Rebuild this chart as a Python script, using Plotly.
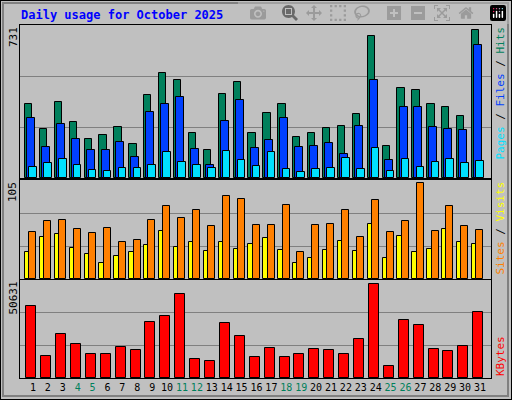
import plotly.graph_objects as go
from plotly.subplots import make_subplots

# --- data ---
days = list(range(1, 32))
weekend = [4, 5, 11, 12, 18, 19, 25, 26]
hits = [364, 240, 374, 275, 195, 210, 250, 170, 409, 518, 483, 220, 136, 414, 473, 220,
        319, 364, 205, 220, 245, 255, 314, 701, 160, 443, 433, 364, 349, 304, 731]
files = [294, 155, 265, 195, 136, 136, 180, 106, 324, 364, 399, 141, 66, 280, 384, 150,
         190, 294, 155, 160, 175, 121, 255, 483, 91, 349, 349, 250, 240, 235, 657]
pages = [56, 76, 96, 66, 41, 36, 51, 51, 66, 126, 81, 66, 51, 131, 91, 61,
         126, 46, 31, 46, 51, 101, 46, 150, 36, 96, 56, 81, 96, 76, 86]
visits = [51, 63, 65, 55, 50, 56, 41, 43, 65, 80, 67, 76, 58, 91, 88, 59,
          59, 81, 29, 59, 60, 75, 46, 86, 51, 63, 105, 52, 80, 58, 54]
sites = [29, 46, 49, 34, 27, 17, 25, 29, 37, 52, 35, 40, 31, 41, 33, 38,
         45, 32, 17, 23, 32, 42, 31, 60, 23, 47, 30, 33, 55, 40, 38]
kbytes = [38950, 11690, 23930, 18360, 12800, 12800, 16700, 15020, 30050, 33390, 45080,
          10020, 8900, 29500, 22820, 11130, 16140, 11130, 12800, 15580, 15020, 12800,
          21150, 50631, 6680, 31170, 28380, 15580, 14470, 17250, 35620]

W, H = 512, 400
BG = "#C0C0C0"
MONO = "DejaVu Sans Mono"
WEEKEND_C = "#00805C"

fig = make_subplots(rows=3, cols=1, shared_xaxes=True)

def bars(y, color, offset, width, row):
    fig.add_trace(go.Bar(x=days, y=y, offset=offset, width=width,
                         marker=dict(color=color, line=dict(color="black", width=1))),
                  row=row, col=1)

bars(hits, "#00805C", -0.54, 0.49, 1)
bars(files, "#0040FF", -0.40, 0.54, 1)
bars(pages, "#00E0FF", -0.25, 0.50, 1)
bars(sites, "#FFFF00", -0.54, 0.29, 2)
bars(visits, "#FF8000", -0.25, 0.47, 2)
bars(kbytes, "#FF0000", -0.45, 0.67, 3)

def dom(top, bot):
    return [1 - bot / H, 1 - top / H]

panels = [(1, 25, 178, 731 * 153 / 148), (2, 180, 279, 105 * 99 / 96), (3, 280, 378, 50631 * 98 / 94)]
for row, top, bot, rmax in panels:
    yname = "yaxis" if row == 1 else "yaxis%d" % row
    fig.layout[yname].update(domain=dom(top, bot), range=[0, rmax],
                             tickvals=[rmax / 3, 2 * rmax / 3], showticklabels=False,
                             ticks="", showgrid=True, gridcolor="#808080", gridwidth=1,
                             zeroline=False, showline=True, linecolor="black",
                             mirror=True, fixedrange=True)
    xname = "xaxis" if row == 1 else "xaxis%d" % row
    fig.layout[xname].update(domain=[20 / W, 491 / W], range=[0.128, 31.74],
                             showgrid=False, zeroline=False, showline=True,
                             linecolor="black", mirror=True, ticks="")

ticktext = ["<span style='color:%s'>%d</span>" % (WEEKEND_C if d in weekend else "black", d)
            for d in days]
fig.update_xaxes(tickvals=days, ticktext=ticktext, showticklabels=True, tickangle=0,
                 tickfont=dict(family=MONO, size=10), row=3, col=1)

fig.update_layout(width=W, height=H, margin=dict(l=0, r=0, t=0, b=0),
                  paper_bgcolor=BG, plot_bgcolor=BG, barmode="overlay",
                  showlegend=False, bargap=0)

# left max labels
for y, txt in [(25, "731"), (180, "105"), (280, "50631")]:
    fig.add_annotation(x=13 / W, y=1 - y / H, xref="paper", yref="paper", text=txt,
                       textangle=-90, showarrow=False, xanchor="center", yanchor="top",
                       font=dict(family=MONO, size=11, color="black"))

# right legends
legends = [(1 - 25 / H, [("Pages", "#00E0FF"), ("Files", "#0040FF"), ("Hits", "#00805C")]),
           (1 - 180 / H, [("Sites", "#FF8000"), ("Visits", "#FFFF00")]),
           (0.055, [("KBytes", "#FF0000")])]
for y, parts in legends:
    txt = "<span style='color:black'> / </span>".join(
        "<span style='color:%s'>%s</span>" % (c, t) for t, c in parts)
    anchor = "bottom" if y < 0.1 else "top"
    fig.add_annotation(x=500 / W, y=y, xref="paper", yref="paper", text=txt,
                       textangle=-90, showarrow=False, xanchor="center", yanchor=anchor,
                       font=dict(family=MONO, size=11))

fig.add_annotation(x=19 / W, y=1 - 15 / H, xref="paper", yref="paper",
                   text="<b>Daily usage for October 2025</b>", showarrow=False,
                   xanchor="left", yanchor="middle",
                   font=dict(family=MONO, size=12, color="#0000FF"))

# bevelled frame
fig.add_shape(type="rect", xref="paper", yref="paper", x0=0, y0=0, x1=1, y1=1,
              line=dict(color="black", width=2))
fig.add_shape(type="rect", xref="paper", yref="paper", x0=3 / W, y0=4 / H,
              x1=1 - 4 / W, y1=1 - 3 / H, line=dict(color="#808080", width=2))

fig.write_html("out.html", post_script="document.body.style.margin='0';")
